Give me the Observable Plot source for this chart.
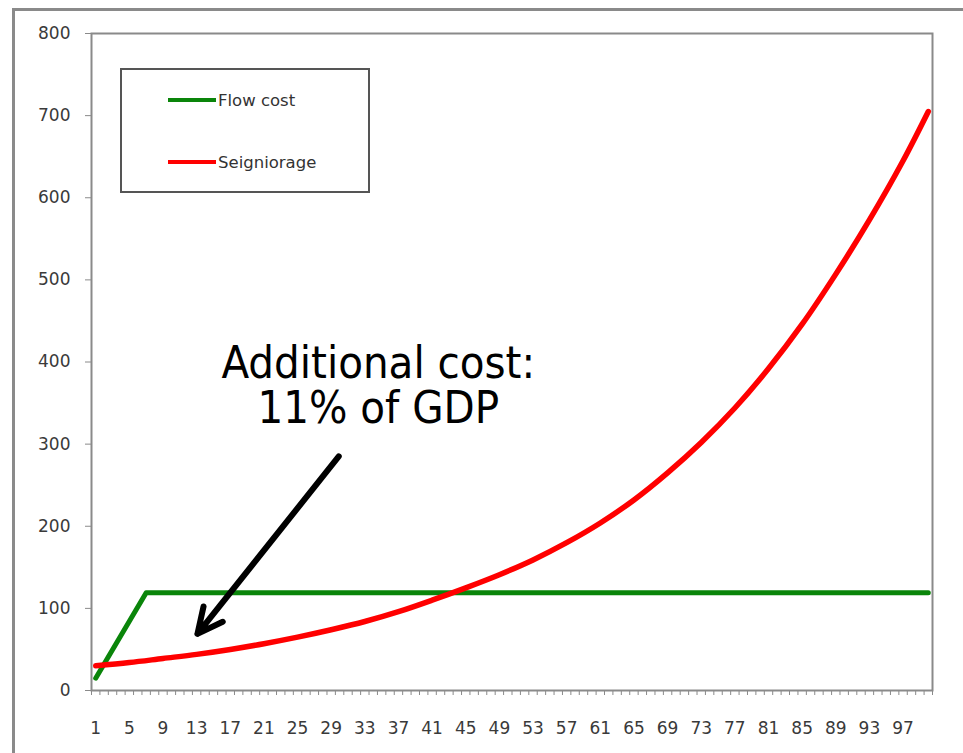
<!DOCTYPE html>
<html>
<head>
<meta charset="utf-8">
<script src="https://cdn.jsdelivr.net/npm/d3@7"></script>
<script src="https://cdn.jsdelivr.net/npm/@observablehq/plot@0.6"></script>
<style>
  body { margin: 0; background: #fff; }
  #wrap { position: relative; width: 963px; height: 753px; overflow: hidden; background: #fff; }
  #outer { position: absolute; left: 12px; top: 8px; width: 1000px; height: 800px;
           border-top: 3px solid #8a8a8a; border-left: 3px solid #8a8a8a; }
  #chart { position: absolute; left: 0; top: 0; }
  #legend { position: absolute; left: 120px; top: 68px; width: 250px; height: 125px;
            border: 2px solid #555; box-sizing: border-box; background: #fff;
            font-family: "DejaVu Sans", sans-serif; font-size: 16.5px; color: #333; }
  .item { position: absolute; left: 46px; height: 20px; display: flex; align-items: center; }
  .sw { width: 48px; height: 4px; margin-right: 2px; }
</style>
</head>
<body>
<div id="wrap">
  <div id="outer"></div>
  <div id="chart"></div>
  <div id="legend"></div>
</div>
<script>
// ---- data ----
const xTickLabels = [1, 5, 9, 13, 17, 21, 25, 29, 33, 37, 41, 45, 49, 53, 57, 61, 65, 69, 73, 77, 81, 85, 89, 93, 97];
const yTickValues = [0, 100, 200, 300, 400, 500, 600, 700, 800];

const seriesNames = ["Flow cost", "Seigniorage"];
const seriesColors = ["#0a850a", "#ff0000"];

const flowPeriods = [1, 7, 100];
const flowValues = [15, 119, 119];

const seigPeriods = [1, 5, 9, 13, 17, 21, 25, 29, 33, 37, 41, 45, 49, 53, 57, 61, 65, 69, 73, 77, 81, 85, 89, 93, 97, 100];
const seigValues = [30, 34, 39, 44, 50, 57, 65, 74, 84, 96, 110, 125, 141, 159, 180, 204, 232, 265, 302, 344, 392, 446, 507, 573, 645, 705];

const annotationText = "Additional cost:\n11% of GDP";
const annotationAt = [34.6, 371];       // [period, value]
const arrowFrom = [29.9, 285];          // [period, value]
const arrowTo = [13.1, 69];             // [period, value]

const periodCount = 100;

// ---- build ----
const flow = flowPeriods.map((p, i) => ({period: p, value: flowValues[i]}));
const seig = seigPeriods.map((p, i) => ({period: p, value: seigValues[i]}));
const minorTicks = d3.range(0.5, periodCount + 1, 1);

const chart = Plot.plot({
  width: 963,
  height: 753,
  marginLeft: 91,
  marginRight: 31,
  marginTop: 33,
  marginBottom: 63,
  style: { fontFamily: "DejaVu Sans, sans-serif", fontSize: "17px", background: "transparent", color: "#3a3a3a" },
  x: { domain: [0.5, periodCount + 0.5] },
  y: { domain: [0, 800] },
  marks: [
    Plot.axisY(yTickValues, { tickSize: 6, tickPadding: 15, stroke: "#8a8a8a", fill: "#3a3a3a", fontSize: 17, label: null }),
    Plot.axisX(minorTicks, { tickSize: 5, tickFormat: () => "", stroke: "#8a8a8a", label: null }),
    Plot.axisX(xTickLabels, { tickSize: 0, tickPadding: 31, fill: "#3a3a3a", fontSize: 17, label: null }),
    Plot.frame({ stroke: "#8a8a8a", strokeWidth: 2 }),
    Plot.line(flow, { x: "period", y: "value", stroke: seriesColors[0], strokeWidth: 5 }),
    Plot.line(seig, { x: "period", y: "value", stroke: seriesColors[1], strokeWidth: 5.5, curve: "catmull-rom" }),
    Plot.text([annotationText], {
      x: () => annotationAt[0], y: () => annotationAt[1], text: d => d,
      fontSize: 45, lineHeight: 1, textAnchor: "middle", fill: "black",
      fontFamily: "Tahoma, 'DejaVu Sans Condensed', 'Liberation Sans', sans-serif"
    }),
    Plot.arrow([0], {
      x1: () => arrowFrom[0], y1: () => arrowFrom[1], x2: () => arrowTo[0], y2: () => arrowTo[1],
      stroke: "black", strokeWidth: 6, headLength: 7, headAngle: 52
    })
  ]
});
document.getElementById("chart").appendChild(chart);

// legend
const legend = document.getElementById("legend");
const legendTops = [20, 82];
seriesNames.forEach((name, i) => {
  const it = document.createElement("div");
  it.className = "item";
  it.style.top = legendTops[i] + "px";
  const sw = document.createElement("div");
  sw.className = "sw";
  sw.style.background = seriesColors[i];
  const t = document.createElement("span");
  t.textContent = name;
  it.appendChild(sw);
  it.appendChild(t);
  legend.appendChild(it);
});
</script>
</body>
</html>
